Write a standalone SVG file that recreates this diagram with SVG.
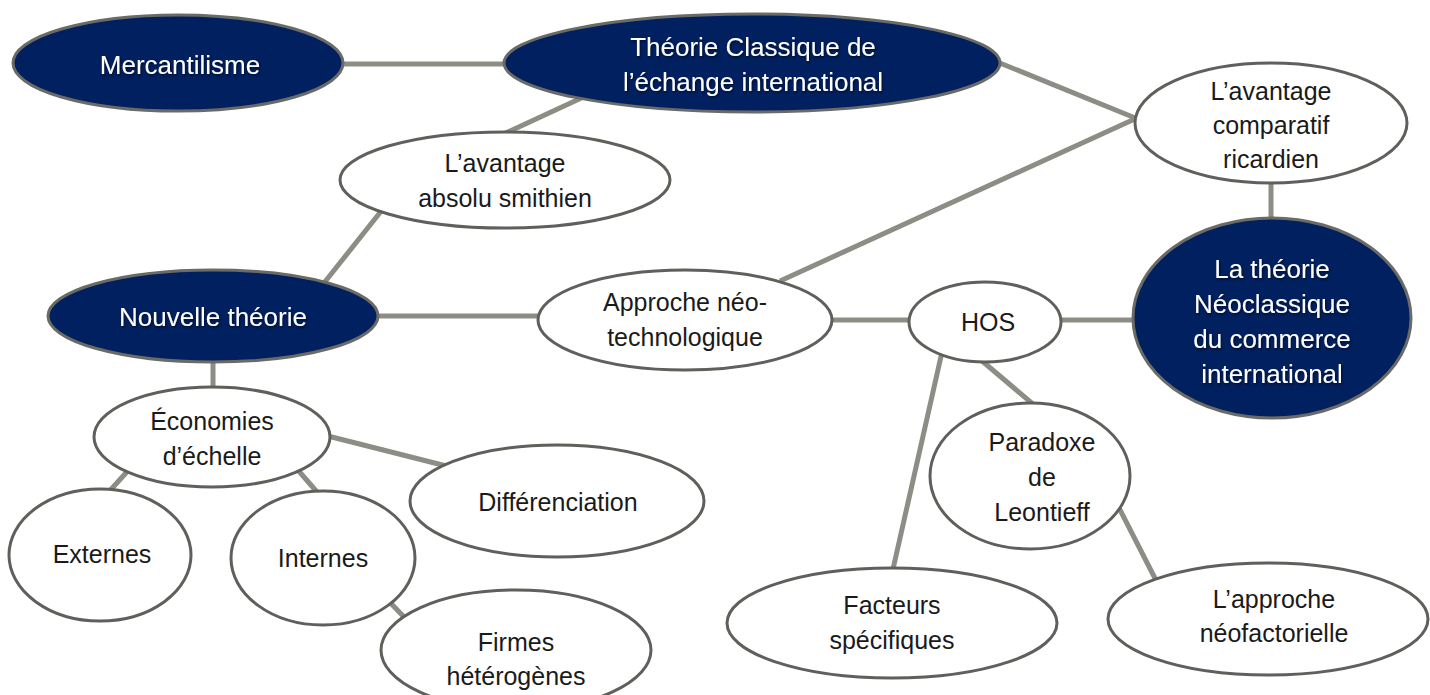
<svg xmlns="http://www.w3.org/2000/svg" width="1430" height="695" viewBox="0 0 1430 695">
<defs>
<style>
.dark{fill:#012060;stroke:#6a6a66;stroke-width:3}
.light{fill:#ffffff;stroke:#5f5f5b;stroke-width:3}
.wt{font-family:"Liberation Sans",Arial,sans-serif;font-size:26px;fill:#ffffff;text-anchor:middle}
.bt{font-family:"Liberation Sans",Arial,sans-serif;font-size:25px;fill:#1a1a1a;text-anchor:middle}
.conn line{stroke:#8d8d85;stroke-width:5;stroke-linecap:butt}
</style>
<filter id="sh" x="-10%" y="-20%" width="120%" height="140%">
<feDropShadow dx="1" dy="1.5" stdDeviation="1" flood-color="#000000" flood-opacity="0.6"/>
</filter>
</defs>
<rect width="1430" height="695" fill="#ffffff"/>
<g id="connectors" class="conn">
<line x1="330" y1="64" x2="520" y2="64"/>
<line x1="590" y1="94" x2="495" y2="138"/>
<line x1="990" y1="59" x2="1150" y2="124"/>
<line x1="780" y1="281" x2="1150" y2="112"/>
<line x1="390" y1="200" x2="320" y2="288"/>
<line x1="370" y1="316" x2="550" y2="316"/>
<line x1="820" y1="320" x2="920" y2="320"/>
<line x1="1050" y1="320" x2="1145" y2="320"/>
<line x1="1271" y1="175" x2="1271" y2="225"/>
<line x1="213" y1="355" x2="213" y2="395"/>
<line x1="320" y1="434" x2="470" y2="472"/>
<line x1="135" y1="463" x2="95" y2="507"/>
<line x1="290" y1="461" x2="331" y2="508"/>
<line x1="380" y1="592" x2="430" y2="644"/>
<line x1="942" y1="352" x2="891" y2="578"/>
<line x1="975" y1="355" x2="1040" y2="410"/>
<line x1="1115" y1="500" x2="1162" y2="592"/>
</g>
<g id="mercantilisme"><ellipse class="dark" cx="178" cy="63" rx="165" ry="48"/><text class="wt" filter="url(#sh)" x="180" y="74">Mercantilisme</text></g>
<g id="theorie-classique"><ellipse class="dark" cx="752" cy="63" rx="248" ry="49"/><text class="wt" filter="url(#sh)" x="753" y="56">Théorie Classique de</text><text class="wt" filter="url(#sh)" x="753" y="91">l’échange international</text></g>
<g id="avantage-absolu"><ellipse class="light" cx="505" cy="180" rx="165" ry="48"/><text class="bt" x="505" y="172">L’avantage</text><text class="bt" x="505" y="207">absolu smithien</text></g>
<g id="avantage-comparatif"><ellipse class="light" cx="1271" cy="123" rx="136" ry="60"/><text class="bt" x="1271" y="100">L’avantage</text><text class="bt" x="1271" y="134">comparatif</text><text class="bt" x="1271" y="168">ricardien</text></g>
<g id="neoclassique"><ellipse class="dark" cx="1272" cy="318" rx="139" ry="100"/><text class="wt" filter="url(#sh)" x="1272" y="278">La théorie</text><text class="wt" filter="url(#sh)" x="1272" y="313">Néoclassique</text><text class="wt" filter="url(#sh)" x="1272" y="348">du commerce</text><text class="wt" filter="url(#sh)" x="1272" y="383">international</text></g>
<g id="nouvelle-theorie"><ellipse class="dark" cx="213" cy="316" rx="165" ry="46"/><text class="wt" filter="url(#sh)" x="213" y="326">Nouvelle théorie</text></g>
<g id="approche-neotechnologique"><ellipse class="light" cx="685" cy="320" rx="147" ry="50"/><text class="bt" x="685" y="311">Approche néo-</text><text class="bt" x="685" y="346">technologique</text></g>
<g id="hos"><ellipse class="light" cx="985" cy="322" rx="76" ry="40"/><text class="bt" x="988" y="331">HOS</text></g>
<g id="paradoxe-leontieff"><ellipse class="light" cx="1030" cy="476" rx="100" ry="73"/><text class="bt" x="1042" y="451">Paradoxe</text><text class="bt" x="1042" y="486">de</text><text class="bt" x="1042" y="521">Leontieff</text></g>
<g id="facteurs-specifiques"><ellipse class="light" cx="892" cy="623" rx="165" ry="55"/><text class="bt" x="892" y="614">Facteurs</text><text class="bt" x="892" y="649">spécifiques</text></g>
<g id="approche-neofactorielle"><ellipse class="light" cx="1268" cy="619" rx="160" ry="56"/><text class="bt" x="1274" y="608">L’approche</text><text class="bt" x="1274" y="642">néofactorielle</text></g>
<g id="economies-echelle"><ellipse class="light" cx="212" cy="437" rx="118" ry="50"/><text class="bt" x="212" y="430">Économies</text><text class="bt" x="212" y="465">d’échelle</text></g>
<g id="differenciation"><ellipse class="light" cx="557" cy="501" rx="147" ry="56"/><text class="bt" x="558" y="511">Différenciation</text></g>
<g id="externes"><ellipse class="light" cx="100" cy="555" rx="91" ry="66"/><text class="bt" x="102" y="563">Externes</text></g>
<g id="internes"><ellipse class="light" cx="323" cy="558" rx="92" ry="67"/><text class="bt" x="323" y="567">Internes</text></g>
<g id="firmes-heterogenes"><ellipse class="light" cx="516" cy="650" rx="135" ry="60"/><text class="bt" x="516" y="651">Firmes</text><text class="bt" x="516" y="685">hétérogènes</text></g>
</svg>
